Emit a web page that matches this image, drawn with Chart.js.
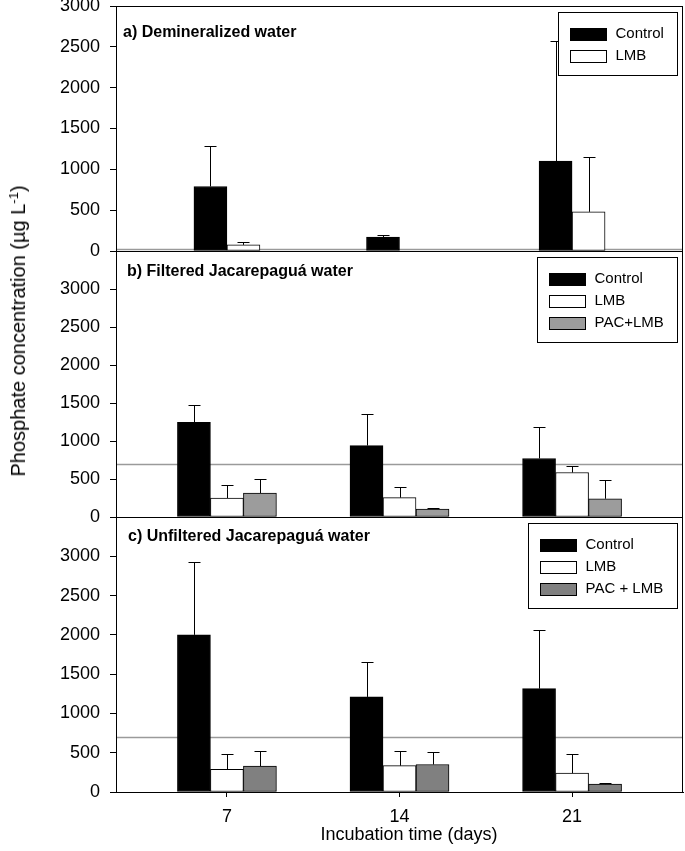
<!DOCTYPE html>
<html>
<head>
<meta charset="utf-8">
<script src="https://cdn.jsdelivr.net/npm/chart.js@4.4.1/dist/chart.umd.min.js"></script>
<style>
  body { margin: 0; background: #fff; }
  #wrap {
    position: relative; width: 685px; height: 851px; overflow: hidden;
    font-family: "Liberation Sans", Arial, sans-serif; color: #000;
  }
  canvas { position: absolute; left: 0; top: 0; }
  .axis-title {
    position: absolute; white-space: nowrap; line-height: 1;
    transform: translate(-50%, -50%);
  }
  #yTitle { left: 18px; top: 331px; font-size: 20px; transform: translate(-50%, -50%) rotate(-90deg); }
  #xTitle { left: 409px; top: 834px; font-size: 18px; }
  sup { font-size: 13px; line-height: 0; vertical-align: 7px; }
</style>
</head>
<body>
<div id="wrap">
  <canvas id="chartA" width="685" height="851"></canvas>
  <canvas id="chartB" width="685" height="851"></canvas>
  <canvas id="chartC" width="685" height="851"></canvas>
  <div class="axis-title" id="yTitle">Phosphate concentration (µg L<sup>-1</sup>)</div>
  <div class="axis-title" id="xTitle">Incubation time (days)</div>
</div>
<script>
const FONT = "'Liberation Sans', Arial, sans-serif";

const days = [7, 14, 21];
const panelTitles = [
  "a) Demineralized water",
  "b) Filtered Jacarepaguá water",
  "c) Unfiltered Jacarepaguá water"
];
const refLevels = [20, 700, 700]; // grey line in each panel

// a) demineralized water
const demiControl = [790, 170, 1100];
const demiControlErr = [490, 25, 1470];
const demiLmb = [75, null, 480];
const demiLmbErr = [40, 0, 670];

// b) filtered Jacarepagua water
const filtControl = [1245, 940, 770];
const filtControlErr = [235, 410, 420];
const filtLmb = [250, 255, 585];
const filtLmbErr = [165, 140, 80];
const filtPac = [315, 105, 240];
const filtPacErr = [185, 10, 250];

// c) unfiltered Jacarepagua water
const unfControl = [2000, 1210, 1315];
const unfControlErr = [930, 450, 745];
const unfLmb = [290, 335, 240];
const unfLmbErr = [195, 185, 245];
const unfPac = [330, 350, 100];
const unfPacErr = [190, 155, 17];

// grey reference line, behind the bars
const refLine = {
  id: "refLine",
  beforeDatasetsDraw(chart, args, opts) {
    const { ctx, chartArea } = chart;
    const y = Math.round(chart.scales.y.getPixelForValue(opts.value)) + 0.5;
    ctx.save();
    ctx.strokeStyle = "#9a9a9a";
    ctx.lineWidth = 1.5;
    ctx.beginPath();
    ctx.moveTo(chartArea.left, y);
    ctx.lineTo(chartArea.right, y);
    ctx.stroke();
    ctx.restore();
  }
};

// upper error whiskers
const errorBars = {
  id: "errorBars",
  afterDatasetsDraw(chart) {
    const { ctx } = chart;
    const yScale = chart.scales.y;
    ctx.save();
    ctx.strokeStyle = "#000";
    ctx.lineWidth = 1;
    chart.data.datasets.forEach((ds, di) => {
      const meta = chart.getDatasetMeta(di);
      meta.data.forEach((bar, i) => {
        const v = ds.data[i].y;
        const e = ds.errors[i];
        if (v == null || !e) return;
        const x = Math.round(bar.x) + 0.5;
        const yTop = Math.round(yScale.getPixelForValue(v + e)) + 0.5;
        ctx.beginPath();
        ctx.moveTo(x, bar.y);
        ctx.lineTo(x, yTop);
        ctx.moveTo(x - 6, yTop);
        ctx.lineTo(x + 6, yTop);
        ctx.stroke();
      });
    });
    ctx.restore();
  }
};

// box around the plot, panel label and legend inside the plot
const panelDecor = {
  id: "panelDecor",
  afterDraw(chart, args, opts) {
    const { ctx, chartArea } = chart;
    ctx.save();
    ctx.strokeStyle = "#000";
    ctx.lineWidth = 1;
    const l = Math.round(chartArea.left) + 0.5;
    const t = Math.round(chartArea.top) + 0.5;
    const r = Math.round(chartArea.right) - 0.5;
    const b = Math.round(chartArea.bottom) + 0.5;
    ctx.strokeRect(l, t, r - l, b - t);

    // panel label
    ctx.fillStyle = "#000";
    ctx.font = "bold 16px " + FONT;
    ctx.textBaseline = "middle";
    ctx.textAlign = "left";
    ctx.fillText(opts.title, chartArea.left + opts.titleDx, chartArea.top + opts.titleDy);

    // legend
    ctx.font = "15px " + FONT;
    const labels = chart.data.datasets.map(d => d.label);
    const maxW = Math.max(...labels.map(s => ctx.measureText(s).width));
    const boxW = Math.round(12 + 36 + 9 + maxW + 14);
    const boxH = 21 + (labels.length - 1) * 22 + 20;
    const bx = Math.round(chartArea.right) - 6 - boxW + 0.5;
    const by = Math.round(chartArea.top) + 6 + 0.5;
    ctx.fillStyle = "#fff";
    ctx.fillRect(bx, by, boxW, boxH);
    ctx.strokeRect(bx, by, boxW, boxH);
    chart.data.datasets.forEach((ds, i) => {
      const cy = by + 21 + i * 22;
      ctx.fillStyle = ds.backgroundColor;
      ctx.fillRect(bx + 12, Math.round(cy - 6) + 0.5, 36, 12);
      ctx.strokeRect(bx + 12, Math.round(cy - 6) + 0.5, 36, 12);
      ctx.fillStyle = "#000";
      ctx.fillText(ds.label, bx + 12 + 36 + 9, cy);
    });
    ctx.restore();
  }
};

function makeDataset(label, values, errors, color) {
  return {
    label: label,
    data: days.map((d, i) => ({ x: d, y: values[i] })),
    errors: errors,
    backgroundColor: color,
    borderColor: "#000",
    borderWidth: 1,
    borderSkipped: false,
    barThickness: 33
  };
}

function makePanel(id, datasets, cfg) {
  return new Chart(document.getElementById(id), {
    type: "bar",
    data: { datasets: datasets },
    plugins: [refLine, errorBars, panelDecor],
    options: {
      responsive: false,
      animation: false,
      devicePixelRatio: 1,
      layout: { padding: { top: cfg.top, bottom: cfg.bottom, left: 0, right: 2 } },
      plugins: {
        legend: { display: false },
        tooltip: { enabled: false },
        refLine: { value: cfg.ref },
        panelDecor: { title: cfg.title, titleDx: cfg.titleDx, titleDy: cfg.titleDy }
      },
      scales: {
        x: {
          type: "linear",
          min: 2.5,
          max: 25.5,
          offset: false,
          display: cfg.showX,
          afterBuildTicks: s => { s.ticks = days.map(v => ({ value: v })); },
          afterFit: s => {
            if (cfg.showX) s.height = 59;
            s.paddingLeft = 0;
            s.paddingRight = 0;
          },
          grid: { drawOnChartArea: false, offset: false, tickLength: 5, color: "#000" },
          border: { color: "#000" },
          ticks: {
            padding: 9,
            color: "#000",
            font: { size: 18, family: FONT },
            callback: v => String(v)
          }
        },
        y: {
          min: 0,
          max: cfg.max,
          afterBuildTicks: s => { s.ticks = s.ticks.filter(t => t.value <= 3000); },
          afterFit: s => {
            s.width = 116;
            s.paddingTop = 0;
            s.paddingBottom = 0;
          },
          grid: { drawOnChartArea: false, tickLength: 6, color: "#000" },
          border: { color: "#000" },
          ticks: {
            stepSize: 500,
            padding: 10,
            color: "#000",
            font: { size: 18, family: FONT },
            callback: v => String(v)
          }
        }
      }
    }
  });
}

makePanel("chartA", [
  makeDataset("Control", demiControl, demiControlErr, "#000"),
  makeDataset("LMB", demiLmb, demiLmbErr, "#fff")
], { top: 6, bottom: 600, max: 3000, showX: false, ref: refLevels[0],
     title: panelTitles[0], titleDx: 7, titleDy: 27 });

makePanel("chartB", [
  makeDataset("Control", filtControl, filtControlErr, "#000"),
  makeDataset("LMB", filtLmb, filtLmbErr, "#fff"),
  makeDataset("PAC+LMB", filtPac, filtPacErr, "#9c9c9c")
], { top: 251, bottom: 334, max: 3500, showX: false, ref: refLevels[1],
     title: panelTitles[1], titleDx: 11, titleDy: 21 });

makePanel("chartC", [
  makeDataset("Control", unfControl, unfControlErr, "#000"),
  makeDataset("LMB", unfLmb, unfLmbErr, "#fff"),
  makeDataset("PAC + LMB", unfPac, unfPacErr, "#808080")
], { top: 517, bottom: 0, max: 3500, showX: true, ref: refLevels[2],
     title: panelTitles[2], titleDx: 12, titleDy: 20 });
</script>
</body>
</html>
